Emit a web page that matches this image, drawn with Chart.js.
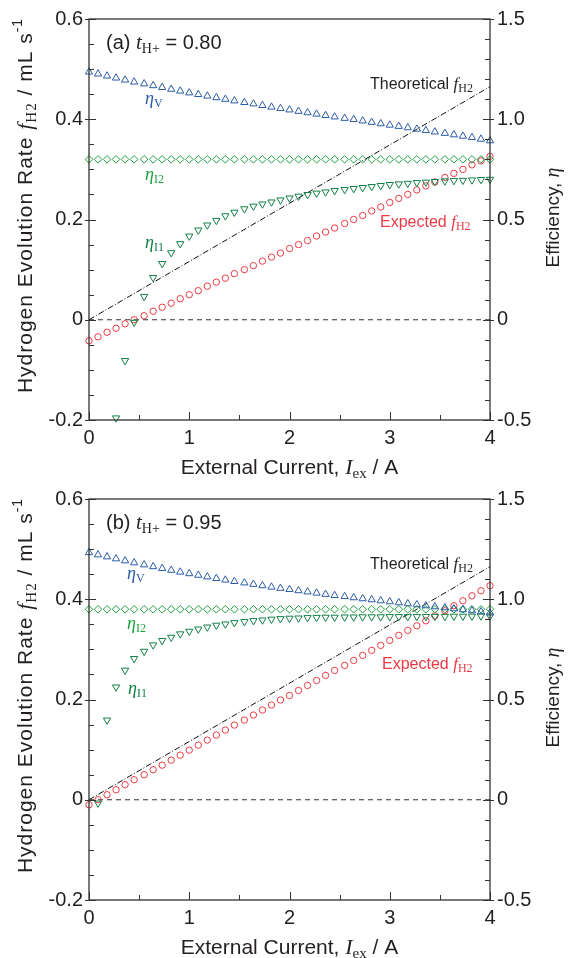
<!DOCTYPE html>
<html>
<head>
<meta charset="utf-8">
<script src="https://cdn.jsdelivr.net/npm/chart.js@4.4.0/dist/chart.umd.min.js"></script>
<style>
  html, body { margin: 0; padding: 0; background: #fff; }
  canvas { display: block; }
</style>
</head>
<body>
<canvas id="panelA" width="571" height="480" style="width:571px;height:480px"></canvas>
<canvas id="panelB" width="571" height="478" style="width:571px;height:478px"></canvas>
<script>
// external current (A), shared by both panels
const currentA = [0, 0.09, 0.18, 0.27, 0.36, 0.45, 0.55, 0.64, 0.73, 0.82,
  0.91, 1.00, 1.09, 1.18, 1.27, 1.36, 1.45, 1.55, 1.64, 1.73,
  1.82, 1.91, 2.00, 2.09, 2.18, 2.27, 2.36, 2.45, 2.55, 2.64,
  2.73, 2.82, 2.91, 3.00, 3.09, 3.18, 3.27, 3.36, 3.45, 3.55,
  3.64, 3.73, 3.82, 3.91, 4.00];

// theoretical f_H2 line (mL/s)
const theoX = [0, 4];
const theoF = [0, 0.465];

// panel (a) t_H+ = 0.80
const etaV_a = [1.236, 1.226, 1.216, 1.206, 1.196, 1.186, 1.177, 1.168, 1.159, 1.150,
  1.141, 1.132, 1.124, 1.116, 1.108, 1.100, 1.092, 1.084, 1.077, 1.069,
  1.061, 1.054, 1.047, 1.040, 1.033, 1.026, 1.019, 1.012, 1.005, 0.999,
  0.992, 0.985, 0.978, 0.971, 0.965, 0.958, 0.951, 0.944, 0.937, 0.930,
  0.923, 0.916, 0.909, 0.901, 0.893];
const etaI2_a = [0.80, 0.80, 0.80, 0.80, 0.80, 0.80, 0.80, 0.80, 0.80, 0.80,
  0.80, 0.80, 0.80, 0.80, 0.80, 0.80, 0.80, 0.80, 0.80, 0.80,
  0.80, 0.80, 0.80, 0.80, 0.80, 0.80, 0.80, 0.80, 0.80, 0.80,
  0.80, 0.80, 0.80, 0.80, 0.80, 0.80, 0.80, 0.80, 0.80, 0.80,
  0.80, 0.80, 0.80, 0.80, 0.80];
const etaI1_a = [null, null, null, -0.49, -0.204, -0.013, 0.116, 0.21, 0.28, 0.334,
  0.379, 0.417, 0.447, 0.472, 0.495, 0.518, 0.536, 0.553, 0.566, 0.577,
  0.587, 0.597, 0.607, 0.616, 0.624, 0.631, 0.637, 0.644, 0.649, 0.654,
  0.659, 0.664, 0.669, 0.674, 0.677, 0.680, 0.684, 0.686, 0.689, 0.692,
  0.694, 0.695, 0.697, 0.699, 0.700];
const expected_a = [-0.042, -0.034, -0.025, -0.017, -0.008, 0.000, 0.008, 0.017, 0.025, 0.033,
  0.042, 0.050, 0.058, 0.067, 0.075, 0.083, 0.092, 0.100, 0.108, 0.117,
  0.125, 0.133, 0.142, 0.150, 0.158, 0.167, 0.175, 0.183, 0.192, 0.200,
  0.208, 0.217, 0.225, 0.234, 0.242, 0.250, 0.259, 0.267, 0.275, 0.284,
  0.292, 0.300, 0.309, 0.317, 0.326];

// panel (b) t_H+ = 0.95
const etaV_b = [1.233, 1.222, 1.212, 1.202, 1.192, 1.182, 1.172, 1.163, 1.154, 1.145,
  1.136, 1.128, 1.120, 1.112, 1.104, 1.096, 1.089, 1.082, 1.075, 1.068,
  1.061, 1.055, 1.049, 1.043, 1.037, 1.031, 1.025, 1.019, 1.014, 1.008,
  1.003, 0.998, 0.993, 0.988, 0.983, 0.978, 0.973, 0.968, 0.963, 0.958,
  0.953, 0.948, 0.943, 0.938, 0.932];
const etaI2_b = [0.95, 0.95, 0.95, 0.95, 0.95, 0.95, 0.95, 0.95, 0.95, 0.95,
  0.95, 0.95, 0.95, 0.95, 0.95, 0.95, 0.95, 0.95, 0.95, 0.95,
  0.95, 0.95, 0.95, 0.95, 0.95, 0.95, 0.95, 0.95, 0.95, 0.95,
  0.95, 0.95, 0.95, 0.95, 0.95, 0.95, 0.95, 0.95, 0.95, 0.95,
  0.95, 0.95, 0.95, 0.95, 0.95];
const etaI1_b = [null, -0.017, 0.397, 0.562, 0.646, 0.704, 0.740, 0.772, 0.794, 0.810,
  0.827, 0.840, 0.851, 0.861, 0.870, 0.876, 0.883, 0.888, 0.893, 0.896,
  0.900, 0.903, 0.905, 0.906, 0.908, 0.909, 0.910, 0.910, 0.911, 0.911,
  0.912, 0.912, 0.912, 0.913, 0.913, 0.913, 0.914, 0.914, 0.914, 0.914,
  0.915, 0.915, 0.915, 0.916, 0.916];
const expected_b = [-0.010, 0.000, 0.010, 0.020, 0.030, 0.040, 0.050, 0.060, 0.069, 0.079,
  0.089, 0.099, 0.109, 0.119, 0.129, 0.139, 0.149, 0.159, 0.169, 0.179,
  0.189, 0.199, 0.208, 0.218, 0.228, 0.238, 0.248, 0.258, 0.268, 0.278,
  0.288, 0.298, 0.308, 0.318, 0.328, 0.338, 0.347, 0.357, 0.367, 0.377,
  0.387, 0.397, 0.407, 0.417, 0.427];

const SANS = '"Liberation Sans", Arial, sans-serif';
const SERIF = '"Liberation Serif", "Times New Roman", serif';
const INK = '#231f20';
const BLUE = '#2b5ba8';
const GREEN = '#1ea23e';
const DKGREEN = '#118046';
const RED = '#ec3a45';

const sans = (t, s) => ({ t, f: s + 'px ' + SANS });
const ital = (t, s) => ({ t, f: 'italic ' + s + 'px ' + SERIF });
const sub = (t, s, dy) => ({ t, f: s + 'px ' + SERIF, dy });

function richText(ctx, parts, x, y, align, color) {
  ctx.fillStyle = color;
  ctx.textAlign = 'left';
  ctx.textBaseline = 'alphabetic';
  let w = 0;
  parts.forEach(p => { ctx.font = p.f; w += ctx.measureText(p.t).width; });
  let cx = align === 'center' ? x - w / 2 : align === 'right' ? x - w : x;
  parts.forEach(p => {
    ctx.font = p.f;
    ctx.fillText(p.t, cx, y + (p.dy || 0));
    cx += ctx.measureText(p.t).width;
  });
}

function pts(ys) {
  return currentA.map((x, i) => ({ x, y: ys[i] })).filter(p => p.y !== null);
}

// frame, inward ticks, axis titles and annotations
function decorPlugin(notes) {
  return {
    id: 'decor',
    afterDatasetsDraw(chart) {
      const { ctx, chartArea: a, scales } = chart;
      ctx.save();
      ctx.strokeStyle = '#333';
      ctx.lineWidth = 1.3;
      ctx.strokeRect(a.left, a.top, a.right - a.left, a.bottom - a.top);
      ctx.lineWidth = 1;
      const seg = (x1, y1, x2, y2) => { ctx.beginPath(); ctx.moveTo(x1, y1); ctx.lineTo(x2, y2); ctx.stroke(); };
      for (let k = 0; k <= 16; k++) {
        const y = Math.round(scales.y.getPixelForValue(-0.2 + k * 0.05)) + 0.5;
        const major = k % 4 === 0;
        seg(a.left - (major ? 4 : 0), y, a.left + (major ? 7 : 5), y);
      }
      for (let k = 0; k <= 20; k++) {
        const y = Math.round(scales.y2.getPixelForValue(-0.5 + k * 0.1)) + 0.5;
        const major = k % 5 === 0;
        seg(a.right + (major ? 4 : 0), y, a.right - (major ? 7 : 5), y);
      }
      for (let k = 0; k <= 8; k++) {
        const x = Math.round(scales.x.getPixelForValue(k * 0.5)) + 0.5;
        const major = k % 2 === 0;
        seg(x, a.bottom, x, a.bottom - (major ? 8 : 5));
      }
      ctx.restore();
    },
    afterDraw(chart) {
      const { ctx, chartArea: a } = chart;
      ctx.save();
      // left title
      ctx.save();
      ctx.translate(32, (a.top + a.bottom) / 2 - 14);
      ctx.rotate(-Math.PI / 2);
      ctx.letterSpacing = '1px';
      richText(ctx, [sans('Hydrogen Evolution Rate ', 21), ital('f', 22), sub('H2', 15, 4),
        sans(' / mL s', 21), { t: '-1', f: '14px ' + SANS, dy: -10 }], 0, 0, 'center', INK);
      ctx.letterSpacing = '0px';
      ctx.restore();
      // right title
      ctx.save();
      ctx.translate(559, (a.top + a.bottom) / 2 - 2);
      ctx.rotate(-Math.PI / 2);
      richText(ctx, [sans('Efficiency, ', 19), ital('\u03b7', 20)], 0, 0, 'center', INK);
      ctx.restore();
      // bottom title
      richText(ctx, [sans('External Current, ', 21), ital('I', 22), sub('ex', 15, 4), sans(' / A', 21)],
        (a.left + a.right) / 2, 474, 'center', INK);
      notes.forEach(n => richText(ctx, n.parts, n.x, n.y, n.align || 'left', n.color));
      ctx.restore();
    }
  };
}

function makePanel(id, d, notes) {
  const common = { showLine: false, clip: false, pointBorderWidth: 1, pointBackgroundColor: 'rgba(0,0,0,0)' };
  new Chart(document.getElementById(id), {
    type: 'scatter',
    data: {
      datasets: [
        Object.assign({ data: pts(d.etaV), yAxisID: 'y2', pointStyle: 'triangle', pointRadius: 4.2, pointBorderColor: BLUE }, common),
        Object.assign({ data: pts(d.etaI2), yAxisID: 'y2', pointStyle: 'rectRot', pointRadius: 3.8, pointBorderColor: GREEN }, common),
        Object.assign({ data: pts(d.etaI1), yAxisID: 'y2', pointStyle: 'triangle', pointRotation: 180, pointRadius: 4.2, pointBorderColor: DKGREEN }, common),
        Object.assign({ data: pts(d.expected), yAxisID: 'y', pointStyle: 'circle', pointRadius: 3.2, pointBorderColor: RED }, common),
        { data: theoX.map((x, i) => ({ x, y: theoF[i] })), yAxisID: 'y', showLine: true, pointRadius: 0,
          borderColor: '#111', borderWidth: 1, borderDash: [6, 2, 1, 2] },
        { data: theoX.map(x => ({ x, y: 0 })), yAxisID: 'y', showLine: true, pointRadius: 0,
          borderColor: '#333', borderWidth: 1, borderDash: [5, 4] }
      ]
    },
    options: {
      responsive: false,
      animation: false,
      devicePixelRatio: 1,
      layout: { padding: { top: 17, left: 0, right: 0, bottom: 0 } },
      plugins: { legend: { display: false }, tooltip: { enabled: false } },
      scales: {
        x: {
          type: 'linear', min: 0, max: 4,
          grid: { display: false, drawTicks: false }, border: { display: false },
          ticks: { stepSize: 1, padding: 6, color: INK, font: { family: SANS, size: 20 }, callback: v => String(v) },
          afterFit: s => { s.height = d.bottomH; }
        },
        y: {
          position: 'left', min: -0.2, max: 0.6,
          grid: { display: false, drawTicks: false }, border: { display: false },
          ticks: { stepSize: 0.2, padding: 6, color: INK, font: { family: SANS, size: 20 },
            callback: v => Math.abs(v) < 1e-9 ? '0' : v.toFixed(1) },
          afterFit: s => { s.width = 89; }
        },
        y2: {
          position: 'right', min: -0.5, max: 1.5,
          grid: { display: false, drawTicks: false }, border: { display: false },
          ticks: { stepSize: 0.5, padding: 7, color: INK, font: { family: SANS, size: 20 },
            callback: v => Math.abs(v) < 1e-9 ? '0' : v.toFixed(1) },
          afterFit: s => { s.width = 81; }
        }
      }
    },
    plugins: [decorPlugin(notes)]
  });
}

const eta = (s, c, x, y) => ({ parts: [ital('\u03b7', 18), sub(s, 12, 3)], x, y, color: c });
const theoNote = y => ({ parts: [sans('Theoretical ', 16), ital('f', 17), sub('H2', 12, 3)], x: 473, y, align: 'right', color: INK });
const expNote = (x, y) => ({ parts: [sans('Expected ', 16), ital('f', 17), sub('H2', 12, 3)], x, y, color: RED });
const head = (tag, val) => ({ parts: [sans(tag + ' ', 20), ital('t', 21), sub('H+', 14, 4), sans(' = ' + val, 20)], x: 106, y: 49, color: INK });

makePanel('panelA', { etaV: etaV_a, etaI2: etaI2_a, etaI1: etaI1_a, expected: expected_a, bottomH: 60 }, [
  head('(a)', '0.80'),
  eta('V', BLUE, 145, 104),
  eta('I2', GREEN, 145, 180),
  eta('I1', DKGREEN, 145, 248),
  theoNote(89),
  expNote(380, 227)
]);

makePanel('panelB', { etaV: etaV_b, etaI2: etaI2_b, etaI1: etaI1_b, expected: expected_b, bottomH: 58 }, [
  head('(b)', '0.95'),
  eta('V', BLUE, 127, 99),
  eta('I2', GREEN, 127, 149),
  eta('I1', DKGREEN, 128, 214),
  theoNote(89),
  expNote(382, 189)
]);
</script>
</body>
</html>
